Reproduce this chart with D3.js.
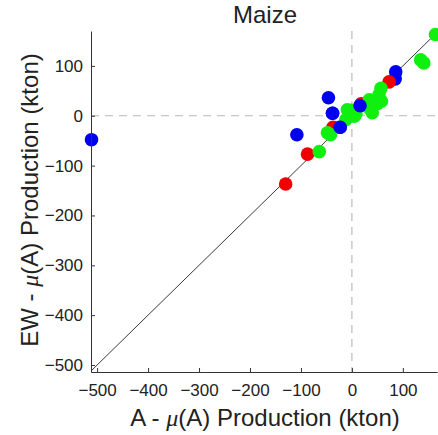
<!DOCTYPE html>
<html>
<head>
<meta charset="utf-8">
<script src="https://cdn.jsdelivr.net/npm/d3@7"></script>
<style>
  body { margin: 0; background: #fff; }
  text { font-family: "Liberation Sans", Arial, sans-serif; fill: #222; }
</style>
</head>
<body>
<div id="chart"></div>
<script>
/* Data: anomalies in kton */
const bluePoints = [
    { x: -511, y: -48 }, { x: -108, y: -38 }, { x: -46, y: 36 },
    { x: -38, y: 5 }, { x: -23, y: -23 }, { x: 16, y: 20 },
    { x: 86, y: 88 }, { x: 85, y: 74 }
];
const redPoints = [
    { x: -130, y: -137 }, { x: -87, y: -77 }, { x: -37, y: -23 },
    { x: 18, y: 24 }, { x: 73, y: 68 }
];
const greenPoints = [
    { x: -64, y: -72 }, { x: -48, y: -34 }, { x: -42, y: -38 },
    { x: -12, y: -8 }, { x: -9, y: 12 }, { x: -2, y: 11 },
    { x: 5, y: -1 }, { x: 8, y: 4 }, { x: 34, y: 16 },
    { x: 34, y: 32 }, { x: 40, y: 6 }, { x: 37, y: 12 },
    { x: 50, y: 24 }, { x: 53, y: 29 }, { x: 58, y: 29 },
    { x: 53, y: 42 }, { x: 57, y: 55 }, { x: 135, y: 112 },
    { x: 141, y: 106 }, { x: 164, y: 163 }
];
const xTicks = [-500, -400, -300, -200, -100, 0, 100];
const yTicks = [-500, -400, -300, -200, -100, 0, 100];
const xDomain = [-512, 167];
const yDomain = [-514, 170];

/* Dimensions */
const W = 438, H = 435;
const margin = { top: 31, right: 1, bottom: 63, left: 91 };
const width = W - margin.left - margin.right;
const height = H - margin.top - margin.bottom;

const svg = d3.select("#chart").append("svg")
    .attr("width", W).attr("height", H);
const g = svg.append("g")
    .attr("transform", `translate(${margin.left},${margin.top})`);

const x = d3.scaleLinear().domain(xDomain).range([0, width]);
const y = d3.scaleLinear().domain(yDomain).range([height, 0]);

g.append("clipPath").attr("id", "clip")
  .append("rect").attr("width", width).attr("height", height);

/* zero reference lines */
g.append("line")
    .attr("x1", x(0)).attr("x2", x(0)).attr("y1", 0).attr("y2", height)
    .style("stroke", "#bbb").style("stroke-width", 1.2).style("stroke-dasharray", "8 6");
g.append("line")
    .attr("x1", 0).attr("x2", width).attr("y1", y(0)).attr("y2", y(0))
    .style("stroke", "#bbb").style("stroke-width", 1.2).style("stroke-dasharray", "8 6");

/* 1:1 line */
g.append("line")
    .attr("clip-path", "url(#clip)")
    .attr("x1", x(-520)).attr("y1", y(-520))
    .attr("x2", x(180)).attr("y2", y(180))
    .style("stroke", "#222").style("stroke-width", 0.9);

/* points */
const series = [
    { data: bluePoints, color: "#0000f0" },
    { data: redPoints, color: "#f00000" },
    { data: greenPoints, color: "#10f010" },
    { data: bluePoints.slice(3, 6), color: "#0000f0" }
];
series.forEach(s => {
    g.append("g").selectAll("circle")
        .data(s.data)
        .join("circle")
          .attr("cx", d => x(d.x))
          .attr("cy", d => y(d.y))
          .attr("r", 6.8)
          .style("fill", s.color);
});

/* axes, ticks inward */
const xAxis = g.append("g")
    .attr("transform", `translate(0,${height})`)
    .call(d3.axisBottom(x).tickValues(xTicks).tickSizeInner(-4).tickSizeOuter(0).tickPadding(12));
const yAxis = g.append("g")
    .call(d3.axisLeft(y).tickValues(yTicks).tickSizeInner(-4).tickSizeOuter(0).tickPadding(8));
[xAxis, yAxis].forEach(a => {
    a.select(".domain").style("stroke", "#333");
    a.selectAll(".tick line").style("stroke", "#333");
    a.selectAll("text").style("font-size", "17px").style("fill", "#222")
        .style("font-family", "'Liberation Sans', Arial, sans-serif");
});

/* title */
svg.append("text")
    .attr("x", 265).attr("y", 23)
    .attr("text-anchor", "middle")
    .style("font-size", "24px")
    .text("Maize");

/* axis titles */
const xt = svg.append("text")
    .attr("x", 265).attr("y", 426)
    .attr("text-anchor", "middle")
    .style("font-size", "24px");
xt.append("tspan").text("A - ");
xt.append("tspan").style("font-family", "'Liberation Serif', serif").style("font-style", "italic").text("\u03bc");
xt.append("tspan").text("(A) Production (kton)");

const yt = svg.append("text")
    .attr("transform", "translate(38,200) rotate(-90)")
    .attr("text-anchor", "middle")
    .style("font-size", "24px");
yt.append("tspan").text("EW - ");
yt.append("tspan").style("font-family", "'Liberation Serif', serif").style("font-style", "italic").text("\u03bc");
yt.append("tspan").text("(A) Production (kton)");
</script>
</body>
</html>
